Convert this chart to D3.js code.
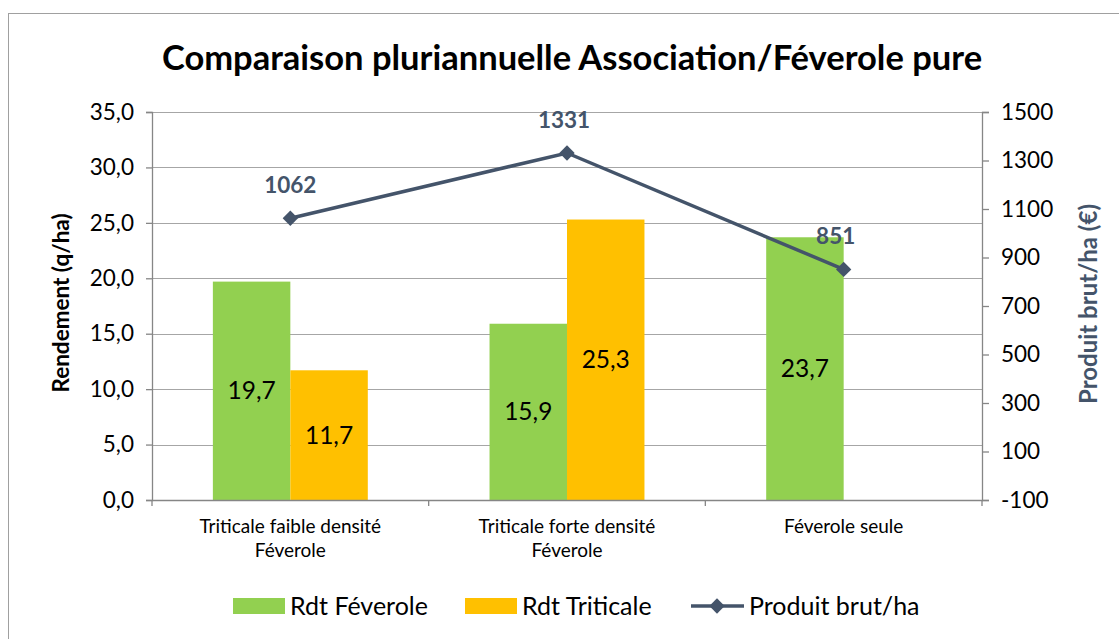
<!DOCTYPE html>
<html><head><meta charset="utf-8">
<script src="https://cdn.jsdelivr.net/npm/d3@7"></script>
<style>body{margin:0;background:#fff}svg{display:block}text{font-family:Lato,"Open Sans",sans-serif}</style>
</head><body>
<svg id="c" width="1119" height="639"></svg>
<script>
const categories = [["Triticale faible densité","Féverole"],["Triticale forte densité","Féverole"],["Féverole seule"]];
const catKeys = ["c1","c2","c3"];
const rdtFeverole = [19.7, 15.9, 23.7];
const rdtTriticale = [11.7, 25.3, null];
const produitBrut = [1062, 1331, 851];
const leftTicks = [0,5,10,15,20,25,30,35];
const rightTicks = [-100,100,300,500,700,900,1100,1300,1500];
const seriesNames = ["Rdt Féverole","Rdt Triticale","Produit brut/ha"];
const colors = {fev:"#92d050", tri:"#ffc000", line:"#44546a"};

const svg = d3.select("#c");
const L=152, R=982, T=112, B=500;
const fmt = v => d3.format(".1f")(v).replace(".", ",");

// frame
svg.append("rect").attr("x",8.5).attr("y",13.5).attr("width",1130).attr("height",640)
  .attr("fill","none").attr("stroke","#a0a0a0").attr("stroke-width",1);

const y = d3.scaleLinear().domain([0,35]).range([B,T]);
const y2 = d3.scaleLinear().domain([-100,1500]).range([B,T]);
const x0 = d3.scaleBand().domain(catKeys).range([L,R]).padding(0);
const gap = x0.bandwidth()*0.22;
const x1 = d3.scaleBand().domain(["fev","tri"]).range([gap, x0.bandwidth()-gap]).padding(0);

// gridlines
svg.append("g").selectAll("line").data(leftTicks.slice(1)).join("line")
  .attr("x1",L).attr("x2",R).attr("y1",d=>Math.round(y(d))+0.5).attr("y2",d=>Math.round(y(d))+0.5)
  .attr("stroke","#a6a6a6").attr("stroke-width",1.2);

// title
svg.append("text").attr("x",572).attr("y",70).attr("text-anchor","middle")
  .attr("font-size",34.5).attr("font-weight","bold").attr("fill","#000")
  .text("Comparaison pluriannuelle Association/Féverole pure");

// bars
const g = svg.append("g");
catKeys.forEach((k,i)=>{
  [["fev",rdtFeverole[i]],["tri",rdtTriticale[i]]].forEach(([s,v])=>{
    if(v==null) return;
    const bx = x0(k)+x1(s);
    g.append("rect").attr("x",bx).attr("y",y(v)).attr("width",x1.bandwidth()).attr("height",B-y(v))
      .attr("fill",colors[s]);
    g.append("text").attr("x",bx+x1.bandwidth()/2).attr("y",(y(v)+B)/2).attr("dy","0.35em")
      .attr("text-anchor","middle").attr("font-size",24.5).attr("fill","#000").text(fmt(v));
  });
});

// axes
const axL = svg.append("g").attr("transform",`translate(${L},0)`)
  .call(d3.axisLeft(y).tickValues(leftTicks).tickSize(6).tickPadding(12).tickFormat(fmt));
const axR = svg.append("g").attr("transform",`translate(${R},0)`)
  .call(d3.axisRight(y2).tickValues(rightTicks).tickSize(7).tickPadding(18).tickFormat(d=>String(d)));
const axB = svg.append("g").attr("transform",`translate(0,${B})`)
  .call(d3.axisBottom(x0).tickSize(0).tickFormat(""));
[axL,axR,axB].forEach(a=>{
  a.selectAll("path,line").attr("stroke","#868686").attr("stroke-width",1.3);
  a.selectAll("text").attr("font-size",22.5).attr("fill","#000").attr("font-family","Lato,'Open Sans',sans-serif");
});
axR.selectAll("text").attr("dx","-6");
// category boundary ticks
svg.append("g").selectAll("line").data(d3.range(catKeys.length+1)).join("line")
  .attr("x1",i=>L+i*x0.bandwidth()).attr("x2",i=>L+i*x0.bandwidth())
  .attr("y1",B).attr("y2",B+6).attr("stroke","#868686").attr("stroke-width",1.3);

// category labels
catKeys.forEach((k,i)=>{
  const t = svg.append("text").attr("x",x0(k)+x0.bandwidth()/2).attr("y",533)
    .attr("text-anchor","middle").attr("font-size",19).attr("fill","#000");
  categories[i].forEach((ln,j)=>t.append("tspan").attr("x",x0(k)+x0.bandwidth()/2).attr("dy",j?24:0).text(ln));
});

// axis titles
svg.append("text").attr("transform","translate(69,303) rotate(-90)").attr("text-anchor","middle")
  .attr("font-size",22.5).attr("font-weight","bold").attr("fill","#000").text("Rendement (q/ha)");
svg.append("text").attr("transform","translate(1097,304) rotate(-90)").attr("text-anchor","middle")
  .attr("font-size",24).attr("font-weight","bold").attr("fill",colors.line).text("Produit brut/ha (€)");

// line
const px = (d,i)=>x0(catKeys[i])+x0.bandwidth()/2;
svg.append("path").datum(produitBrut)
  .attr("d",d3.line().x(px).y(d=>y2(d)))
  .attr("fill","none").attr("stroke",colors.line).attr("stroke-width",3.5);
const diamond = d3.symbol().type(d3.symbolDiamond2).size(150);
svg.append("g").selectAll("path").data(produitBrut).join("path")
  .attr("transform",(d,i)=>`translate(${px(d,i)},${y2(d)})`).attr("d",diamond).attr("fill",colors.line);
svg.append("g").selectAll("text").data(produitBrut).join("text")
  .attr("x",(d,i)=>px(d,i)-(i===2?8:(i===1?3:0))).attr("y",d=>y2(d)-25)
  .attr("text-anchor","middle").attr("font-size",22.5).attr("font-weight","bold").attr("fill",colors.line)
  .text(d=>d);

// legend
const lg = svg.append("g");
const ly = 606;
lg.append("rect").attr("x",233).attr("y",ly-8).attr("width",52).attr("height",16).attr("fill",colors.fev);
lg.append("text").attr("x",290).attr("y",ly).attr("dy","0.35em").attr("font-size",25).text(seriesNames[0]);
lg.append("rect").attr("x",465).attr("y",ly-8).attr("width",52).attr("height",16).attr("fill",colors.tri);
lg.append("text").attr("x",522).attr("y",ly).attr("dy","0.35em").attr("font-size",25).text(seriesNames[1]);
lg.append("line").attr("x1",691).attr("x2",744).attr("y1",ly).attr("y2",ly).attr("stroke",colors.line).attr("stroke-width",3.5);
lg.append("path").attr("transform",`translate(717,${ly})`).attr("d",diamond).attr("fill",colors.line);
lg.append("text").attr("x",749).attr("y",ly).attr("dy","0.35em").attr("font-size",25).text(seriesNames[2]);
</script>
</body></html>
